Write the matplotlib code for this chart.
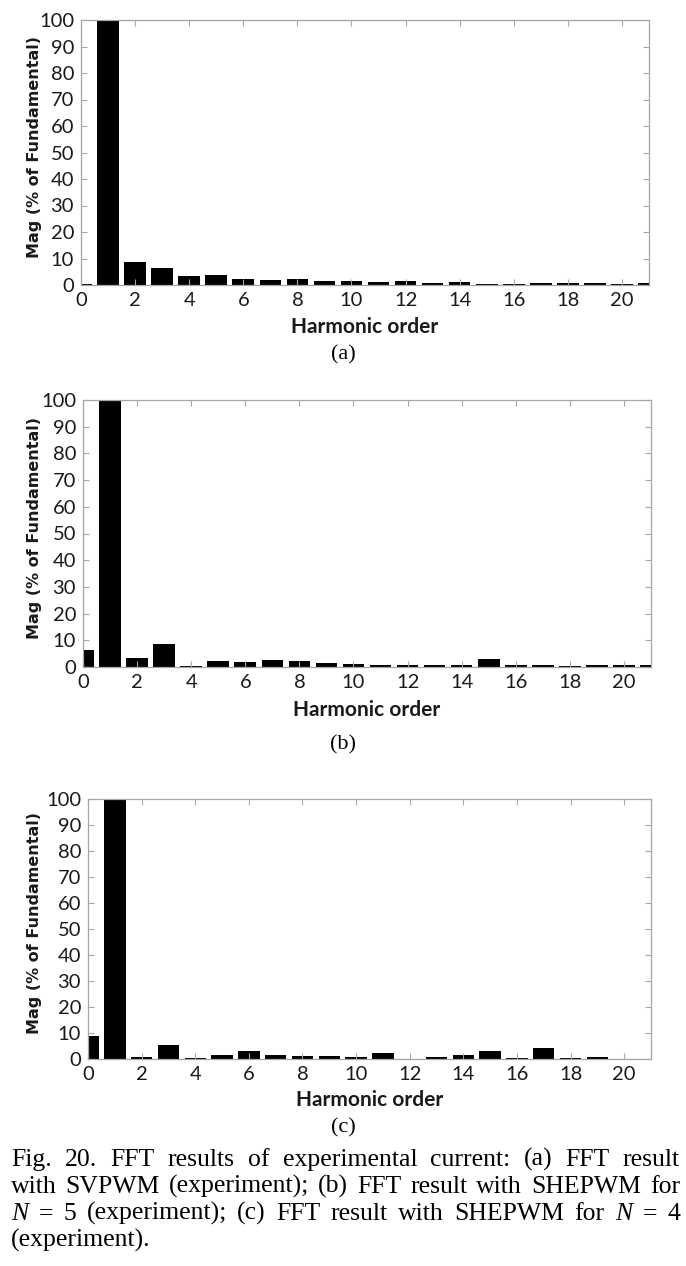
import numpy as np
import matplotlib
matplotlib.use('Agg')
import matplotlib.pyplot as plt

# harmonic spectra (% of fundamental)
orders = np.arange(0, 22)
mag_a = [0.3, 100, 8.7, 6.4, 3.3, 3.6, 2.3, 1.9, 2.1, 1.6, 1.4, 1.1, 1.6, 0.9, 1.1, 0.3, 0.5, 0.6, 0.6, 0.6, 0.5, 0.7]
mag_b = [6.2, 100, 3.3, 8.6, 0.5, 2.1, 1.8, 2.8, 2.4, 1.4, 1.1, 0.8, 0.8, 0.6, 0.8, 3.1, 0.9, 0.7, 0.4, 0.6, 0.8, 0.9]
mag_c = [9.0, 100, 0.9, 5.5, 0.5, 1.5, 2.9, 1.5, 1.3, 1.3, 0.6, 2.3, 0.1, 0.9, 1.6, 2.9, 0.4, 4.1, 0.3, 0.6, 0.1, 0.1]
panel_tags = ['(a)', '(b)', '(c)']
xticks = np.arange(0, 21, 2)
yticks = np.arange(0, 101, 10)
xlabel = 'Harmonic order'
ylabel = 'Mag (% of Fundamental)'

W, H = 686, 1266
fig = plt.figure(figsize=(W / 100, H / 100), dpi=100)

# axes boxes in pixels: left, top, right, bottom
boxes = [(81, 20, 649, 285), (83, 400, 651, 667), (88, 799, 651, 1059)]
xlab_y = [327, 710, 1100]
tag_y = [355, 745, 1128]
tick_font = ['Lato', 'DejaVu Sans']
grey = '#a6a6a6'

for mags, box, xy, ty, tag in zip([mag_a, mag_b, mag_c], boxes, xlab_y, tag_y, panel_tags):
    l, t, r, b = box
    ax = fig.add_axes([l / W, 1 - b / H, (r - l) / W, (b - t) / H])
    ax.bar(orders, mags, width=0.8, color='black')
    ax.set_xlim(0, 21)
    ax.set_ylim(0, 100)
    ax.set_xticks(xticks)
    ax.set_yticks(yticks)
    for s in ax.spines.values():
        s.set_color(grey)
        s.set_linewidth(0.9)
    ax.tick_params(direction='in', top=True, right=True, length=4, color=grey,
                   labelcolor='#1a1a1a', labelsize=14.5)
    ax.tick_params(axis='x', pad=5)
    ax.tick_params(axis='y', pad=5)
    for lb in ax.get_xticklabels() + ax.get_yticklabels():
        lb.set_family(tick_font)
    fig.text((l + r) / 2 / W, 1 - xy / H, xlabel, ha='center', va='center',
             fontsize=15, fontweight='bold', family=tick_font, color='#1a1a1a')
    fig.text(35 / W, 1 - ((t + b) / 2 - 6) / H, ylabel, rotation=90, ha='center', va='center',
             fontsize=11.5, fontweight='bold', family='DejaVu Sans', color='#1a1a1a')
    fig.text(343 / W, 1 - ty / H, tag, ha='center', va='center',
             fontsize=16, family='Liberation Serif')

# caption, justified between x0 and x1
caption = [
    ['Fig.', '20.', 'FFT', 'results', 'of', 'experimental', 'current:', '(a)', 'FFT', 'result'],
    ['with', 'SVPWM', '(experiment);', '(b)', 'FFT', 'result', 'with', 'SHEPWM', 'for'],
    ['*N', '=', '5', '(experiment);', '(c)', 'FFT', 'result', 'with', 'SHEPWM', 'for', '*N', '=', '4'],
    ['(experiment).'],
]
base_y = [1166, 1193, 1220, 1247]
x0, x1 = 11, 680
renderer = fig.canvas.get_renderer()
for words, by in zip(caption, base_y):
    texts = []
    for w in words:
        style = 'italic' if w.startswith('*') else 'normal'
        texts.append(fig.text(0, 1 - by / H, w.lstrip('*'), ha='left', va='baseline',
                              fontsize=18.5, family='Liberation Serif', style=style))
    widths = [tx.get_window_extent(renderer).width for tx in texts]
    if len(words) > 1:
        gap = (x1 - x0 - sum(widths)) / (len(words) - 1)
    else:
        gap = 0
    x = x0
    for tx, wd in zip(texts, widths):
        tx.set_x(x / W)
        x += wd + gap

fig.savefig('out.png', dpi=100)
